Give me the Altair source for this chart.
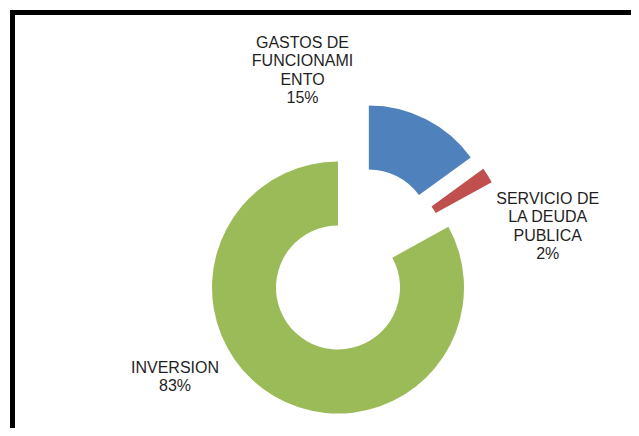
import math
import altair as alt
import pandas as pd

# ---- data ----
categories = ["GASTOS DE FUNCIONAMIENTO", "SERVICIO DE LA DEUDA PUBLICA", "INVERSION"]
shares = [15, 2, 83]
label_text = ["GASTOS DE\nFUNCIONAMI\nENTO", "SERVICIO DE\nLA DEUDA\nPUBLICA", "INVERSION"]

# ---- style ----
colors = ["#4F81BD", "#C0504D", "#9BBB59"]
W, H = 623, 420
CX, CY = 346.3, 252.0
R_OUT, R_IN, EXPLODE = 126, 62, 32
label_x = [294.5, 539.7, 167.0]
label_y = [40.0, 196.0, 365.0]
FONT = "Liberation Sans"

df = pd.DataFrame({
    "idx": list(range(len(categories))),
    "category": categories,
    "share": shares,
    "text": [f"{t}\n{v}%" for t, v in zip(label_text, shares)],
    "lx": label_x,
    "ly": label_y,
})
total = sum(shares)

theta_scale = alt.Scale(domain=[0, total], range=[0, 2 * math.pi])

arcs = (
    alt.Chart(df)
    .transform_window(cum="sum(share)", sort=[alt.SortField("idx")], frame=[None, 0])
    .transform_calculate(
        start="datum.cum - datum.share",
        mid=f"2*PI*(datum.cum - datum.share/2)/{total}",
    )
    .transform_calculate(
        ox=f"{CX} + {EXPLODE}*sin(datum.mid)",
        oy=f"{CY} - {EXPLODE}*cos(datum.mid)",
    )
    .mark_arc(radius=R_OUT, radius2=R_IN)
    .encode(
        theta=alt.Theta("start:Q", scale=theta_scale),
        theta2=alt.Theta2("cum:Q"),
        x=alt.X("ox:Q", scale=None),
        y=alt.Y("oy:Q", scale=None),
        color=alt.Color("category:N", scale=alt.Scale(domain=categories, range=colors), legend=None),
    )
)

labels = (
    alt.Chart(df)
    .mark_text(
        align="center", baseline="alphabetic", fontSize=16, lineHeight=18.3,
        lineBreak="\n", font=FONT, color="#1f1f1f",
    )
    .encode(
        x=alt.X("lx:Q", scale=None),
        y=alt.Y("ly:Q", scale=None),
        text="text:N",
    )
)

one = pd.DataFrame({"k": [0]})
top_border = alt.Chart(one).mark_rule(color="black", strokeWidth=5).encode(
    x=alt.value(2), x2=alt.value(W), y=alt.value(4.5)
)
left_border = alt.Chart(one).mark_rule(color="black", strokeWidth=5).encode(
    x=alt.value(4.5), y=alt.value(2), y2=alt.value(H)
)

chart = (
    alt.layer(arcs, labels, top_border, left_border)
    .properties(width=W, height=H, padding=0, autosize="none", background="white")
    .configure_view(stroke=None)
)

chart.save("out.html", embed_options={"renderer": "svg", "actions": False})
